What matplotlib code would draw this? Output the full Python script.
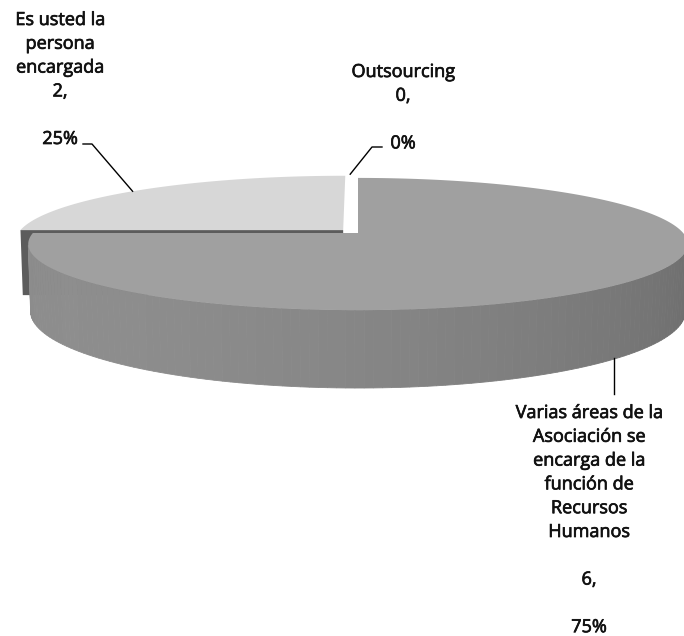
import numpy as np
import matplotlib.pyplot as plt
import matplotlib.patheffects as pe
from matplotlib.patches import Polygon

# Responsable de la función de Recursos Humanos
categories = [
    "Es usted la\npersona\nencargada",
    "Outsourcing",
    "Varias áreas de la\nAsociación se\nencarga de la\nfunción de\nRecursos\nHumanos\n",
]
values = [2, 0, 6]
explode = [0.065, 0.0, 0.0]
start_angle = 270          # degrees, clockwise from 12 o'clock

top_colors = ["#d7d7d7", "#b0b0b0", "#a0a0a0"]

# perspective camera for the 3-D pie
ELEV = np.radians(11.4)
DIST = 5.88
FOCAL = 1912.0
THICK = 0.207
CX, CY = 358.0, 233.0
SIN_E, COS_E = np.sin(ELEV), np.cos(ELEV)
CAM = np.array([0.0, DIST * SIN_E, DIST * COS_E])


def project(X, Y, Z):
    yc = Y * COS_E - Z * SIN_E
    zc = DIST - Y * SIN_E - Z * COS_E
    return CX + FOCAL * X / zc, CY - FOCAL * yc / zc


def rim(theta_deg, Y, off, r=1.0):
    t = np.radians(theta_deg)
    X = off[0] + r * np.sin(t)
    Z = off[1] - r * np.cos(t)
    return project(X, np.full_like(X, Y, dtype=float), Z)


def wall_gray(theta_deg):
    t = np.radians(theta_deg)
    light = -0.8 * np.sin(t) + 0.6 * (-np.cos(t))
    return 0.48 + 0.075 * light


total = sum(values)
bounds = np.cumsum([0] + values) / total * 360 + start_angle
slices = []
for i, v in enumerate(values):
    th0, th1 = bounds[i], bounds[i + 1]
    mid = np.radians((th0 + th1) / 2)
    off = (explode[i] * np.sin(mid), -explode[i] * np.cos(mid))
    slices.append((i, th0, th1, off))

fig = plt.figure(figsize=(6.84, 6.36), dpi=100)
ax = fig.add_axes([0, 0, 1, 1])
ax.set_xlim(0, 684)
ax.set_ylim(636, 0)
ax.axis("off")

# paint the far slices first
slices.sort(key=lambda s: -np.cos(np.radians((s[1] + s[2]) / 2)))
for i, th0, th1, off in slices:
    if values[i] == 0:
        continue
    center = np.array([off[0], 0.0, off[1]])

    # radial cut faces that turn towards the camera
    for th, sign in ((th0, -1), (th1, 1)):
        t = np.radians(th)
        normal = sign * np.array([np.cos(t), 0.0, np.sin(t)])
        if np.dot(normal, CAM - center) < 0.2:
            continue
        px0, py0 = project(center[0], 0.0, center[2])
        px1, py1 = project(center[0], -THICK, center[2])
        rx0, ry0 = rim(np.array([th]), 0.0, off)
        rx1, ry1 = rim(np.array([th]), -THICK, off)
        pts = [(px0, py0), (rx0[0], ry0[0]), (rx1[0], ry1[0]), (px1, py1)]
        ax.add_patch(Polygon(pts, closed=True, facecolor="#5c5c5c",
                             edgecolor="none"))

    # outer wall, only the part facing the camera
    th = np.linspace(th0, th1, 200)
    t = np.radians(th)
    vis = -1 - off[0] * np.sin(t) - (DIST * COS_E - off[1]) * np.cos(t) > 0
    for k in range(len(th) - 1):
        if not (vis[k] and vis[k + 1]):
            continue
        seg = th[k:k + 2]
        tx, ty = rim(seg, 0.0, off)
        bx, by = rim(seg, -THICK, off)
        quad = np.column_stack([np.r_[tx, bx[::-1]], np.r_[ty, by[::-1]]])
        g = wall_gray(seg.mean())
        ax.add_patch(Polygon(quad, closed=True, facecolor=(g, g, g),
                             edgecolor=(g, g, g), lw=0.6))

    # top face
    px, py = project(center[0], 0.0, center[2])
    tx, ty = rim(th, 0.0, off)
    face = np.column_stack([np.r_[px, tx], np.r_[py, ty]])
    ax.add_patch(Polygon(face, closed=True, facecolor=top_colors[i],
                         edgecolor="none"))

offsets = {s[0]: s[3] for s in slices}

# data labels
label_pos = [(60, 25), (403, 77), (589, 418)]
pitch = 23.8
thicken = [pe.withStroke(linewidth=0.5, foreground="#111111")]
for i, name in enumerate(categories):
    pct = round(100 * values[i] / total)
    lines = name.split("\n") + [f"{values[i]},", "", f"{pct}%"]
    x0, y0 = label_pos[i]
    for k, line in enumerate(lines):
        ax.text(x0, y0 + k * pitch, line, ha="center", va="baseline",
                fontsize=13, family=["Open Sans", "DejaVu Sans"],
                color="#111111", path_effects=thicken)

# leader lines from the slices to their labels
ax_, ay_ = rim(np.array([313.0]), 0.0, offsets[0])
ax.plot([ax_[0], 92, 83], [ay_[0], 144, 144], color="black", lw=1.0)

ox, oy = rim(np.array([358.5]), 0.0, offsets[1], r=1.08)
ax.plot([ox[0], 372, 382], [oy[0], 147, 147], color="black", lw=1.0)

vx, vy = rim(np.array([135.0]), -THICK, offsets[2], r=0.99)
ax.plot([vx[0], vx[0]], [vy[0], 394], color="black", lw=1.0)

fig.savefig("out.png", dpi=100, facecolor="white")
